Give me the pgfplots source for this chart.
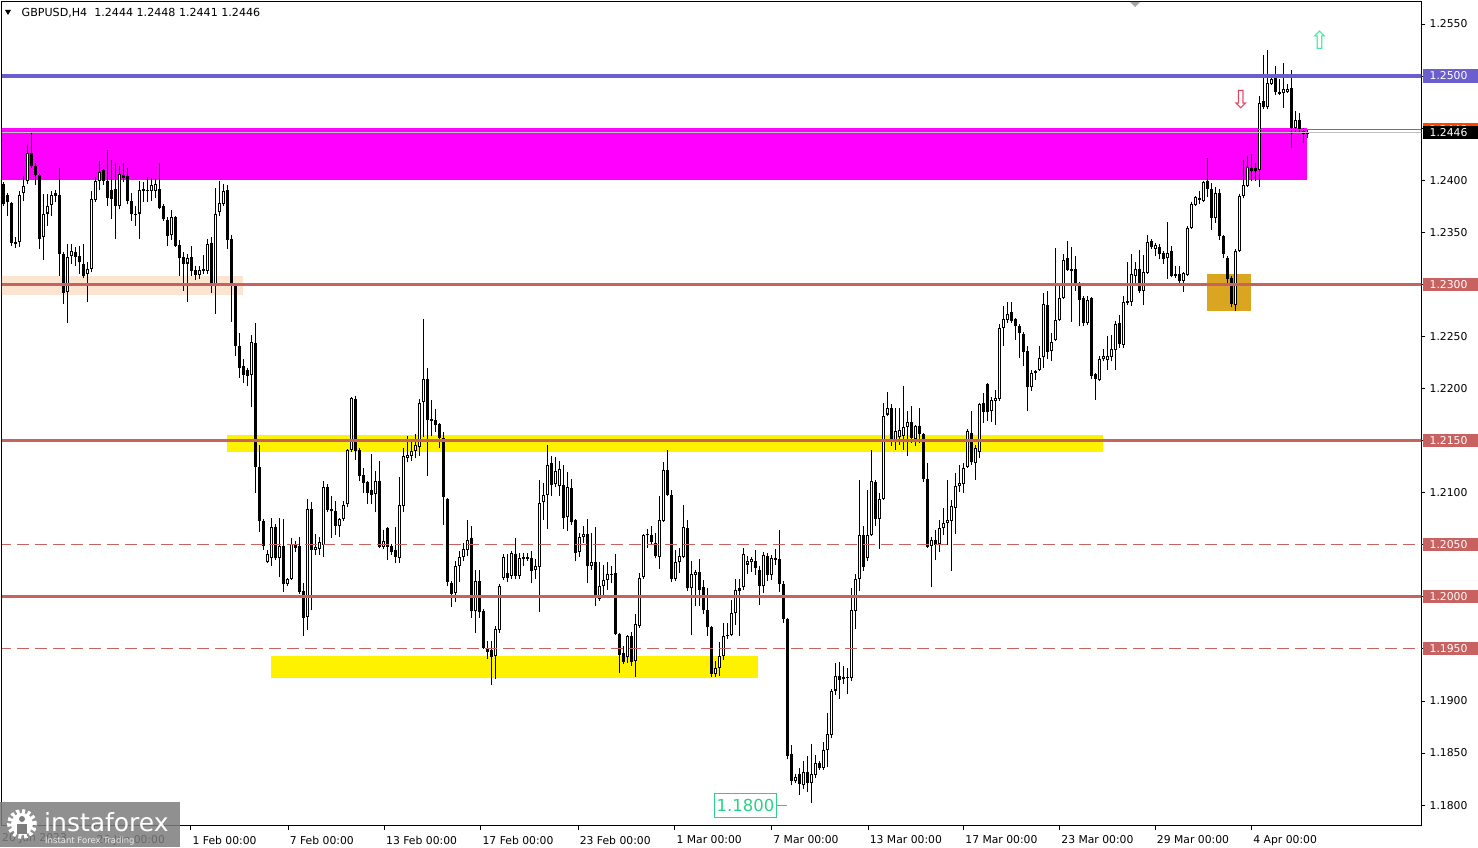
\documentclass[border=0pt]{standalone}
\usepackage{fontspec}
\setmainfont{DejaVu Sans}
\usepackage{pgfplots}
\usepackage{pgfplotstable}
\pgfplotsset{compat=1.18}
\definecolor{lvl}{RGB}{200,98,96}
\definecolor{blv}{RGB}{108,94,204}
\definecolor{peach}{RGB}{251,229,208}
\definecolor{gold}{RGB}{218,165,32}
\definecolor{ored}{RGB}{255,69,0}
\definecolor{grn}{RGB}{40,210,135}
\definecolor{grnar}{RGB}{60,235,160}
\definecolor{silv}{RGB}{192,192,192}
\definecolor{arred}{RGB}{225,70,95}
\definecolor{logog}{RGB}{125,125,125}
\definecolor{mag}{RGB}{255,0,255}
\newcommand\lf{\fontsize{10.8}{13}\selectfont}
\pgfplotstableread{
o h l c
1.2396 1.2398 1.2375 1.2377
1.2386 1.2388 1.2366 1.2379
1.2378 1.2379 1.2337 1.2340
1.2341 1.2345 1.2335 1.2339
1.2341 1.2390 1.2336 1.2386
1.2388 1.2404 1.2380 1.2394
1.2399 1.2434 1.2396 1.2426
1.2426 1.2446 1.2412 1.2414
1.2414 1.2417 1.2395 1.2405
1.2405 1.2406 1.2334 1.2344
1.2345 1.2387 1.2323 1.2368
1.2368 1.2387 1.2356 1.2375
1.2376 1.2390 1.2366 1.2386
1.2388 1.2391 1.2379 1.2385
1.2386 1.2412 1.2308 1.2329
1.2329 1.2331 1.2281 1.2292
1.2293 1.2339 1.2263 1.2326
1.2327 1.2339 1.2320 1.2332
1.2331 1.2336 1.2318 1.2326
1.2327 1.2337 1.2310 1.2321
1.2320 1.2339 1.2306 1.2308
1.2310 1.2321 1.2283 1.2315
1.2315 1.2390 1.2312 1.2382
1.2381 1.2403 1.2379 1.2399
1.2399 1.2418 1.2391 1.2408
1.2410 1.2411 1.2395 1.2399
1.2399 1.2429 1.2375 1.2383
1.2391 1.2419 1.2363 1.2382
1.2392 1.2417 1.2344 1.2375
1.2375 1.2414 1.2372 1.2406
1.2405 1.2417 1.2398 1.2402
1.2404 1.2412 1.2377 1.2380
1.2380 1.2388 1.2361 1.2368
1.2368 1.2375 1.2356 1.2367
1.2368 1.2399 1.2344 1.2391
1.2392 1.2398 1.2379 1.2390
1.2391 1.2403 1.2379 1.2390
1.2390 1.2402 1.2380 1.2395
1.2390 1.2401 1.2383 1.2396
1.2392 1.2417 1.2372 1.2373
1.2375 1.2377 1.2361 1.2363
1.2362 1.2365 1.2337 1.2346
1.2347 1.2371 1.2343 1.2365
1.2365 1.2366 1.2336 1.2337
1.2338 1.2343 1.2308 1.2325
1.2326 1.2331 1.2294 1.2320
1.2320 1.2329 1.2283 1.2325
1.2326 1.2337 1.2308 1.2313
1.2314 1.2318 1.2304 1.2309
1.2309 1.2318 1.2305 1.2314
1.2315 1.2328 1.2310 1.2313
1.2313 1.2344 1.2310 1.2339
1.2340 1.2345 1.2292 1.2300
1.2300 1.2393 1.2272 1.2368
1.2369 1.2399 1.2366 1.2378
1.2377 1.2396 1.2375 1.2390
1.2391 1.2395 1.2334 1.2343
1.2344 1.2347 1.2264 1.2299
1.2299 1.2301 1.2231 1.2241
1.2241 1.2253 1.2210 1.2220
1.2222 1.2228 1.2205 1.2213
1.2218 1.2220 1.2202 1.2212
1.2213 1.2251 1.2182 1.2245
1.2244 1.2263 1.2100 1.2125
1.2125 1.2146 1.2062 1.2073
1.2073 1.2075 1.2045 1.2049
1.2033 1.2045 1.2032 1.2041
1.2037 1.2076 1.2030 1.2067
1.2067 1.2070 1.2035 1.2037
1.2037 1.2076 1.2019 1.2049
1.2049 1.2075 1.2005 1.2012
1.2012 1.2018 1.2010 1.2017
1.2017 1.2056 1.2016 1.2051
1.2051 1.2054 1.2043 1.2047
1.2049 1.2057 1.2003 1.2005
1.2006 1.2013 1.1962 1.1980
1.1981 1.2094 1.1968 1.2084
1.2084 1.2091 1.1987 1.2045
1.2045 1.2060 1.2040 1.2048
1.2046 1.2057 1.2040 1.2053
1.2050 1.2111 1.2038 1.2105
1.2105 1.2108 1.2081 1.2083
1.2084 1.2097 1.2056 1.2082
1.2082 1.2092 1.2059 1.2068
1.2068 1.2076 1.2057 1.2075
1.2075 1.2092 1.2073 1.2088
1.2089 1.2142 1.2086 1.2141
1.2141 1.2192 1.2139 1.2191
1.2190 1.2193 1.2131 1.2140
1.2141 1.2143 1.2111 1.2116
1.2117 1.2124 1.2100 1.2109
1.2110 1.2111 1.2089 1.2100
1.2103 1.2137 1.2089 1.2098
1.2099 1.2121 1.2081 1.2111
1.2111 1.2130 1.2047 1.2048
1.2048 1.2064 1.2046 1.2054
1.2066 1.2067 1.2035 1.2048
1.2049 1.2051 1.2040 1.2043
1.2045 1.2067 1.2032 1.2038
1.2037 1.2115 1.2032 1.2088
1.2087 1.2143 1.2081 1.2135
1.2133 1.2154 1.2129 1.2136
1.2135 1.2151 1.2130 1.2140
1.2140 1.2156 1.2133 1.2146
1.2144 1.2190 1.2135 1.2186
1.2187 1.2267 1.2153 1.2209
1.2209 1.2220 1.2116 1.2170
1.2171 1.2189 1.2154 1.2169
1.2170 1.2180 1.2158 1.2165
1.2166 1.2167 1.2143 1.2152
1.2152 1.2158 1.2069 1.2096
1.2094 1.2095 1.2010 1.2014
1.2013 1.2015 1.1990 1.2003
1.2004 1.2034 1.1995 1.2030
1.2030 1.2044 1.2014 1.2038
1.2038 1.2052 1.2034 1.2046
1.2045 1.2074 1.2039 1.2055
1.2056 1.2068 1.1980 1.1986
1.1986 1.2026 1.1965 1.2015
1.2015 1.2026 1.1980 1.1985
1.1986 1.1988 1.1950 1.1951
1.1951 1.1958 1.1940 1.1947
1.1949 1.1958 1.1915 1.1942
1.1943 1.1972 1.1921 1.1969
1.1968 1.2012 1.1965 1.2010
1.2018 1.2041 1.2016 1.2038
1.2023 1.2041 1.2014 1.2018
1.2020 1.2044 1.2017 1.2042
1.2041 1.2056 1.2017 1.2020
1.2020 1.2042 1.2017 1.2037
1.2038 1.2042 1.2030 1.2036
1.2036 1.2042 1.2034 1.2038
1.2037 1.2044 1.2013 1.2025
1.2026 1.2036 1.2017 1.2030
1.2029 1.2112 1.1985 1.2090
1.2091 1.2109 1.2074 1.2098
1.2098 1.2146 1.2065 1.2127
1.2128 1.2135 1.2097 1.2107
1.2108 1.2134 1.2105 1.2121
1.2106 1.2130 1.2097 1.2123
1.2107 1.2127 1.2065 1.2076
1.2077 1.2120 1.2063 1.2105
1.2104 1.2113 1.2069 1.2072
1.2074 1.2075 1.2034 1.2042
1.2043 1.2061 1.2038 1.2057
1.2057 1.2068 1.2052 1.2060
1.2060 1.2075 1.2013 1.2030
1.2030 1.2061 1.2026 1.2033
1.2033 1.2067 1.1991 1.2001
1.1998 1.2033 1.1996 1.2010
1.2010 1.2031 1.2002 1.2016
1.2016 1.2033 1.2007 1.2022
1.2021 1.2030 1.2013 1.2022
1.2023 1.2041 1.1963 1.1964
1.1964 1.1965 1.1927 1.1944
1.1946 1.1953 1.1935 1.1937
1.1942 1.1963 1.1936 1.1962
1.1962 1.1966 1.1934 1.1937
1.1938 1.1983 1.1923 1.1974
1.1972 1.2023 1.1970 1.2018
1.2019 1.2060 1.2017 1.2059
1.2059 1.2065 1.2047 1.2060
1.2059 1.2068 1.2050 1.2053
1.2052 1.2061 1.2037 1.2039
1.2038 1.2097 1.2027 1.2074
1.2073 1.2129 1.2072 1.2122
1.2122 1.2141 1.2097 1.2098
1.2098 1.2103 1.2014 1.2017
1.2017 1.2045 1.2015 1.2033
1.2033 1.2047 1.2023 1.2039
1.2038 1.2088 1.2037 1.2067
1.2066 1.2074 1.2006 1.2008
1.2008 1.2034 1.1963 1.2022
1.2021 1.2026 1.1991 1.2024
1.2024 1.2036 1.1991 1.2007
1.2009 1.2016 1.1983 1.1987
1.1987 1.2008 1.1962 1.1971
1.1971 1.1972 1.1923 1.1926
1.1926 1.1938 1.1923 1.1932
1.1932 1.1957 1.1924 1.1943
1.1943 1.1975 1.1939 1.1962
1.1962 1.1975 1.1959 1.1963
1.1963 1.1997 1.1962 1.1984
1.1984 1.2017 1.1973 1.2007
1.2006 1.2017 1.1962 1.2008
1.2009 1.2047 1.2007 1.2041
1.2031 1.2039 1.2022 1.2034
1.2033 1.2038 1.2024 1.2036
1.2034 1.2045 1.2021 1.2028
1.2026 1.2030 1.1992 1.2010
1.2010 1.2043 1.2004 1.2040
1.2039 1.2042 1.2015 1.2021
1.2021 1.2040 1.2016 1.2037
1.2037 1.2046 1.2031 1.2035
1.2036 1.2064 1.2005 1.2012
1.2012 1.2015 1.1975 1.1979
1.1979 1.1980 1.1844 1.1847
1.1849 1.1858 1.1819 1.1823
1.1823 1.1830 1.1821 1.1827
1.1830 1.1836 1.1810 1.1820
1.1819 1.1842 1.1815 1.1832
1.1832 1.1847 1.1813 1.1821
1.1821 1.1859 1.1802 1.1830
1.1829 1.1848 1.1826 1.1840
1.1840 1.1842 1.1834 1.1836
1.1836 1.1861 1.1834 1.1853
1.1853 1.1888 1.1837 1.1868
1.1867 1.1911 1.1864 1.1910
1.1910 1.1936 1.1906 1.1924
1.1924 1.1937 1.1902 1.1920
1.1921 1.1934 1.1916 1.1923
1.1923 1.1932 1.1907 1.1922
1.1922 1.2008 1.1919 1.1987
1.1986 1.2022 1.1969 1.2017
1.2017 1.2112 1.2006 1.2059
1.2059 1.2068 1.2025 1.2029
1.2037 1.2103 1.2034 1.2059
1.2059 1.2141 1.2058 1.2111
1.2110 1.2112 1.2068 1.2075
1.2075 1.2100 1.2046 1.2094
1.2094 1.2186 1.2093 1.2174
1.2175 1.2197 1.2174 1.2181
1.2181 1.2185 1.2145 1.2149
1.2150 1.2181 1.2141 1.2159
1.2153 1.2181 1.2146 1.2160
1.2154 1.2202 1.2141 1.2163
1.2163 1.2178 1.2135 1.2168
1.2168 1.2183 1.2148 1.2152
1.2151 1.2165 1.2145 1.2164
1.2164 1.2181 1.2148 1.2156
1.2156 1.2157 1.2110 1.2113
1.2113 1.2128 1.2047 1.2048
1.2049 1.2057 1.2009 1.2055
1.2055 1.2064 1.2035 1.2050
1.2051 1.2074 1.2043 1.2066
1.2066 1.2085 1.2059 1.2071
1.2071 1.2112 1.2050 1.2074
1.2073 1.2093 1.2025 1.2087
1.2085 1.2119 1.2060 1.2106
1.2106 1.2127 1.2101 1.2109
1.2108 1.2128 1.2100 1.2124
1.2125 1.2161 1.2124 1.2159
1.2157 1.2178 1.2127 1.2129
1.2128 1.2146 1.2112 1.2143
1.2139 1.2186 1.2133 1.2185
1.2186 1.2196 1.2167 1.2177
1.2204 1.2205 1.2169 1.2177
1.2178 1.2192 1.2168 1.2189
1.2188 1.2199 1.2165 1.2191
1.2190 1.2262 1.2188 1.2258
1.2258 1.2279 1.2241 1.2267
1.2266 1.2283 1.2263 1.2272
1.2273 1.2283 1.2263 1.2265
1.2267 1.2268 1.2247 1.2260
1.2260 1.2262 1.2229 1.2253
1.2252 1.2254 1.2222 1.2235
1.2236 1.2241 1.2178 1.2201
1.2201 1.2218 1.2198 1.2215
1.2215 1.2218 1.2208 1.2217
1.2218 1.2241 1.2217 1.2229
1.2230 1.2292 1.2220 1.2281
1.2280 1.2294 1.2228 1.2235
1.2236 1.2253 1.2226 1.2245
1.2247 1.2335 1.2246 1.2266
1.2266 1.2300 1.2265 1.2287
1.2287 1.2329 1.2286 1.2323
1.2325 1.2342 1.2313 1.2314
1.2315 1.2336 1.2264 1.2313
1.2315 1.2327 1.2294 1.2300
1.2300 1.2302 1.2260 1.2285
1.2287 1.2289 1.2260 1.2263
1.2263 1.2289 1.2261 1.2285
1.2287 1.2288 1.2209 1.2212
1.2214 1.2215 1.2189 1.2209
1.2208 1.2231 1.2207 1.2228
1.2228 1.2238 1.2226 1.2231
1.2227 1.2250 1.2218 1.2231
1.2230 1.2251 1.2226 1.2238
1.2237 1.2265 1.2218 1.2262
1.2263 1.2271 1.2239 1.2243
1.2242 1.2289 1.2239 1.2283
1.2282 1.2321 1.2280 1.2284
1.2283 1.2329 1.2279 1.2310
1.2308 1.2321 1.2299 1.2315
1.2315 1.2333 1.2292 1.2294
1.2294 1.2328 1.2280 1.2312
1.2311 1.2347 1.2310 1.2341
1.2342 1.2344 1.2334 1.2336
1.2334 1.2340 1.2327 1.2338
1.2336 1.2339 1.2324 1.2329
1.2330 1.2332 1.2320 1.2324
1.2325 1.2360 1.2305 1.2330
1.2332 1.2337 1.2307 1.2308
1.2310 1.2318 1.2306 1.2308
1.2310 1.2318 1.2300 1.2303
1.2303 1.2312 1.2293 1.2311
1.2309 1.2356 1.2308 1.2354
1.2354 1.2379 1.2353 1.2377
1.2376 1.2385 1.2375 1.2384
1.2383 1.2390 1.2377 1.2381
1.2380 1.2399 1.2379 1.2398
1.2399 1.2421 1.2384 1.2392
1.2392 1.2397 1.2352 1.2364
1.2364 1.2393 1.2359 1.2388
1.2388 1.2392 1.2343 1.2346
1.2346 1.2347 1.2325 1.2329
1.2325 1.2327 1.2299 1.2305
1.2306 1.2308 1.2278 1.2281
1.2280 1.2334 1.2274 1.2332
1.2332 1.2387 1.2331 1.2385
1.2385 1.2419 1.2383 1.2395
1.2394 1.2423 1.2393 1.2413
1.2412 1.2425 1.2399 1.2409
1.2412 1.2417 1.2399 1.2409
1.2410 1.2481 1.2393 1.2474
1.2476 1.2520 1.2468 1.2470
1.2470 1.2525 1.2468 1.2493
1.2492 1.2498 1.2491 1.2497
1.2498 1.2510 1.2482 1.2485
1.2485 1.2497 1.2482 1.2483
1.2484 1.2513 1.2469 1.2488
1.2485 1.2492 1.2484 1.2488
1.2489 1.2506 1.2431 1.2450
1.2450 1.2466 1.2446 1.2458
1.2458 1.2465 1.2446 1.2448
1.2447 1.2450 1.2436 1.2444
1.2444 1.2448 1.2441 1.2446
}\candles
\newcommand\boxlab[3]{%
  \fill[#1] ([xshift=1.5pt,yshift=-6.6pt]axis cs:354.55,#2) rectangle ([xshift=60pt,yshift=6.6pt]axis cs:354.55,#2);
  \node[anchor=west, inner sep=0pt, text=white, font=\lf] at ([xshift=8pt]axis cs:354.55,#2) {#3};}
\begin{document}
\begin{tikzpicture}
\useasboundingbox (0pt,0pt) rectangle (1478pt,847pt);
\begin{axis}[
  at={(2pt,21.3pt)}, anchor=south west, scale only axis,
  width=1419.5pt, height=824.2pt,
  xmin=-0.325, xmax=354.55, ymin=1.17802, ymax=1.25716,
  clip mode=individual,
  axis line style={black, line width=1pt},
  tick style={black, line width=0.8pt},
  tick align=outside, major tick length=4pt,
  xtick pos=lower, ytick pos=right,
  xticklabel pos=lower, yticklabel pos=right,
  xtick={22.9,46.9,71.2,95.3,119.4,143.7,167.9,192.1,216.2,240.1,264.1,288.0,312.1},
  xticklabels={26 Jan 00:00,1 Feb 00:00,7 Feb 00:00,13 Feb 00:00,17 Feb 00:00,23 Feb 00:00,1 Mar 00:00,7 Mar 00:00,13 Mar 00:00,17 Mar 00:00,23 Mar 00:00,29 Mar 00:00,4 Apr 00:00},
  ytick={1.1800,1.1850,1.1900,1.1950,1.2000,1.2050,1.2100,1.2150,1.2200,1.2250,1.2300,1.2350,1.2400,1.2450,1.2500,1.2550},
  yticklabels={1.1800,1.1850,1.1900,,,,1.2100,,1.2200,1.2250,,1.2350,1.2400,,,1.2550},
  xticklabel style={font=\lf, anchor=north west, inner sep=0pt, xshift=1.5pt, yshift=-6pt},
  yticklabel style={font=\lf, anchor=west, inner sep=0pt, xshift=4pt},
]
% zones
\addplot[fill=peach, draw=none, forget plot] coordinates {(-1,1.22898) (59.9,1.22898) (59.9,1.23080) (-1,1.23080)} --cycle;
\addplot[fill=mag, draw=none, forget plot] coordinates {(-1,1.2400) (325.85,1.2400) (325.85,1.24497) (-1,1.24497)} --cycle;
\addplot[fill=yellow, draw=none, forget plot] coordinates {(55.9,1.21393) (274.9,1.21393) (274.9,1.21553) (55.9,1.21553)} --cycle;
\addplot[fill=yellow, draw=none, forget plot] coordinates {(66.9,1.19217) (188.75,1.19217) (188.75,1.19431) (66.9,1.19431)} --cycle;
\addplot[fill=gold, draw=none, forget plot] coordinates {(301,1.22747) (311.85,1.22747) (311.85,1.23099) (301,1.23099)} --cycle;
% candles: wicks
\addplot[draw=none, mark=none, forget plot, error bars/.cd, y dir=plus, y explicit, error mark=none,
  error bar style={draw=black, line width=1pt}]
  table[x expr=\coordindex, y=l, y error expr=\thisrow{h}-\thisrow{l}] {\candles};
% bodies
\addplot[draw=none, mark=none, forget plot, error bars/.cd, y dir=plus, y explicit, error mark=none,
  error bar style={draw=black, line width=3pt}]
  table[x expr=\coordindex, y expr={min(\thisrow{o},\thisrow{c})}, y error expr={max(abs(\thisrow{c}-\thisrow{o}),0.00009)}] {\candles};
% white interior of rising candles
\addplot[draw=none, mark=none, forget plot, error bars/.cd, y dir=plus, y explicit, error mark=none,
  error bar style={draw=white, line width=1pt}]
  table[x expr=\coordindex, y expr={\thisrow{o}+0.0001}, y error expr={max(\thisrow{c}-\thisrow{o}-0.0002,0)}] {\candles};
% levels
\addplot[draw=blv, line width=3.2pt, forget plot] coordinates {(-1,1.2500) (360,1.2500)};
\addplot[draw=ored, line width=1.2pt, forget plot] coordinates {(-1,1.2449) (360,1.2449)};
\addplot[draw=silv, line width=1pt, forget plot] coordinates {(-1,1.2446) (360,1.2446)};
\addplot[draw=lvl, line width=3.2pt, forget plot] coordinates {(-1,1.2300) (360,1.2300)};
\addplot[draw=lvl, line width=3.2pt, forget plot] coordinates {(-1,1.2150) (360,1.2150)};
\addplot[draw=lvl, line width=1.2pt, dash pattern=on 12pt off 6pt, forget plot] coordinates {(-1,1.2050) (360,1.2050)};
\addplot[draw=lvl, line width=3.2pt, forget plot] coordinates {(-1,1.2000) (360,1.2000)};
\addplot[draw=lvl, line width=1.2pt, dash pattern=on 12pt off 6pt, forget plot] coordinates {(-1,1.1950) (360,1.1950)};
% labels in plot
\node[draw=grn, text=grn, line width=0.8pt, inner xsep=2pt, minimum height=24pt, font=\fontsize{16.5}{18}\selectfont] (g) at (axis cs:185.55,1.1800) {1.1800};
\draw[grn, line width=1pt] (g.east) -- ([xshift=10pt]g.east);
\node[text=arred, font=\fontsize{25}{25}\selectfont, inner sep=0pt] at (axis cs:309.4,1.2477) {⇩};
\node[text=grnar, font=\fontsize{25}{25}\selectfont, inner sep=0pt] at (axis cs:329.05,1.25346) {⇧};
% right boxed labels
\boxlab{blv}{1.2500}{1.2500}
\boxlab{ored}{1.2449}{1.2449}
\boxlab{black}{1.2446}{1.2446}
\boxlab{lvl}{1.2300}{1.2300}
\boxlab{lvl}{1.2150}{1.2150}
\boxlab{lvl}{1.2050}{1.2050}
\boxlab{lvl}{1.2000}{1.2000}
\boxlab{lvl}{1.1950}{1.1950}
\end{axis}
% header
\fill[black] (5pt,837pt) -- (11pt,837pt) -- (8pt,832pt) -- cycle;
\node[anchor=west, inner sep=0pt, font=\fontsize{11.1}{13}\selectfont] at (21.5pt,834pt) {GBPUSD,H4\ \ 1.2444 1.2448 1.2441 1.2446};
\fill[gray!70] (1130pt,845pt) -- (1140pt,845pt) -- (1135pt,840pt) -- cycle;
% first date label
\node[anchor=north west, inner sep=0pt, font=\lf] at (2pt,13.5pt) {20 Jan 2023};
% logo watermark
\fill[logog, opacity=0.85] (0pt,0pt) rectangle (179.5pt,45pt);
\draw[white, line width=5pt, dash pattern=on 3pt off 2.5pt] (22pt,23pt) circle (12.5pt);
\fill[white] (22pt,23pt) circle (11pt);
\fill[logog] (22pt,28pt) circle (3pt);
\fill[logog] (17pt,13pt) rectangle (27pt,23pt);
\node[anchor=base west, inner sep=0pt, text=white, font=\fontsize{25}{25}\selectfont] at (44pt,16pt) {instaforex};
\node[anchor=base west, inner sep=0pt, text=white!85!gray, font=\fontsize{8.5}{9}\selectfont] at (45pt,4pt) {Instant Forex Trading};
\end{tikzpicture}
\end{document}
